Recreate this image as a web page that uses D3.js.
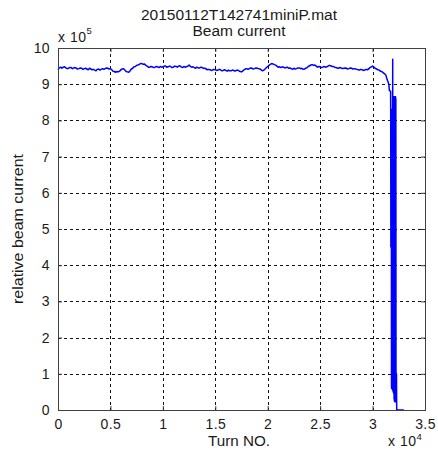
<!DOCTYPE html>
<html>
<head>
<meta charset="utf-8">
<script src="https://cdn.jsdelivr.net/npm/d3@7"></script>
<style>
  html, body { margin: 0; padding: 0; background: #fff; }
  text { font-family: Arial, "Liberation Sans", sans-serif; fill: #1a1a1a; }
</style>
</head>
<body>
<svg id="chart" width="438" height="458"></svg>
<script>
// Beam current record (relative units, x 10^5) against turn number
const titleLines = ["20150112T142741miniP.mat", "Beam current"];
const xTicks = [0, 5000, 10000, 15000, 20000, 25000, 30000, 35000];
const xTickLabels = ["0", "0.5", "1", "1.5", "2", "2.5", "3", "3.5"];
const yTicks = [0, 1, 2, 3, 4, 5, 6, 7, 8, 9, 10];

// stored beam: samples every 125 turns
const storedTurns = [
  0, 125, 250, 375, 500, 625, 750, 875, 1000, 1125, 1250, 1375, 1500, 1625, 1750, 1875,
  2000, 2125, 2250, 2375, 2500, 2625, 2750, 2875, 3000, 3125, 3250, 3375, 3500, 3625, 3750, 3875,
  4000, 4125, 4250, 4375, 4500, 4625, 4750, 4875, 5000, 5125, 5250, 5375, 5500, 5625, 5750, 5875,
  6000, 6125, 6250, 6375, 6500, 6625, 6750, 6875, 7000, 7125, 7250, 7375, 7500, 7625, 7750, 7875,
  8000, 8125, 8250, 8375, 8500, 8625, 8750, 8875, 9000, 9125, 9250, 9375, 9500, 9625, 9750, 9875,
  10000, 10125, 10250, 10375, 10500, 10625, 10750, 10875, 11000, 11125, 11250, 11375, 11500, 11625, 11750, 11875,
  12000, 12125, 12250, 12375, 12500, 12625, 12750, 12875, 13000, 13125, 13250, 13375, 13500, 13625, 13750, 13875,
  14000, 14125, 14250, 14375, 14500, 14625, 14750, 14875, 15000, 15125, 15250, 15375, 15500, 15625, 15750, 15875,
  16000, 16125, 16250, 16375, 16500, 16625, 16750, 16875, 17000, 17125, 17250, 17375, 17500, 17625, 17750, 17875,
  18000, 18125, 18250, 18375, 18500, 18625, 18750, 18875, 19000, 19125, 19250, 19375, 19500, 19625, 19750, 19875,
  20000, 20125, 20250, 20375, 20500, 20625, 20750, 20875, 21000, 21125, 21250, 21375, 21500, 21625, 21750, 21875,
  22000, 22125, 22250, 22375, 22500, 22625, 22750, 22875, 23000, 23125, 23250, 23375, 23500, 23625, 23750, 23875,
  24000, 24125, 24250, 24375, 24500, 24625, 24750, 24875, 25000, 25125, 25250, 25375, 25500, 25625, 25750, 25875,
  26000, 26125, 26250, 26375, 26500, 26625, 26750, 26875, 27000, 27125, 27250, 27375, 27500, 27625, 27750, 27875,
  28000, 28125, 28250, 28375, 28500, 28625, 28750, 28875, 29000, 29125, 29250, 29375, 29500, 29625, 29750, 29875,
  30000, 30125, 30250, 30375, 30500, 30625, 30750, 30875, 31000, 31125, 31250
];
const storedCurrent = [
  9.40, 9.45, 9.47, 9.44, 9.47, 9.48, 9.45, 9.43, 9.44, 9.46, 9.46, 9.43, 9.45, 9.46, 9.44, 9.42,
  9.43, 9.45, 9.44, 9.41, 9.43, 9.44, 9.42, 9.40, 9.44, 9.42, 9.40, 9.41, 9.39, 9.37, 9.41, 9.42,
  9.39, 9.41, 9.43, 9.41, 9.43, 9.45, 9.44, 9.42, 9.43, 9.40, 9.36, 9.35, 9.33, 9.35, 9.34, 9.36,
  9.40, 9.42, 9.43, 9.39, 9.35, 9.34, 9.33, 9.37, 9.42, 9.44, 9.48, 9.49, 9.52, 9.53, 9.55, 9.57,
  9.57, 9.55, 9.56, 9.52, 9.50, 9.47, 9.47, 9.49, 9.48, 9.46, 9.47, 9.49, 9.48, 9.46, 9.49, 9.47,
  9.48, 9.50, 9.50, 9.47, 9.48, 9.50, 9.49, 9.46, 9.47, 9.50, 9.49, 9.47, 9.50, 9.51, 9.48, 9.46,
  9.49, 9.47, 9.48, 9.50, 9.53, 9.49, 9.47, 9.48, 9.46, 9.44, 9.47, 9.45, 9.45, 9.47, 9.46, 9.44,
  9.44, 9.42, 9.40, 9.41, 9.40, 9.38, 9.39, 9.41, 9.40, 9.38, 9.39, 9.41, 9.40, 9.37, 9.38, 9.40,
  9.38, 9.36, 9.39, 9.37, 9.37, 9.39, 9.38, 9.36, 9.38, 9.39, 9.37, 9.35, 9.34, 9.37, 9.40, 9.42,
  9.43, 9.41, 9.43, 9.45, 9.44, 9.42, 9.43, 9.45, 9.44, 9.43, 9.42, 9.40, 9.37, 9.39, 9.42, 9.46,
  9.49, 9.52, 9.55, 9.57, 9.56, 9.54, 9.53, 9.50, 9.47, 9.48, 9.46, 9.48, 9.47, 9.45, 9.46, 9.47,
  9.44, 9.45, 9.43, 9.41, 9.44, 9.42, 9.43, 9.45, 9.45, 9.43, 9.44, 9.41, 9.42, 9.44, 9.46, 9.49,
  9.51, 9.53, 9.54, 9.52, 9.53, 9.50, 9.47, 9.49, 9.48, 9.46, 9.47, 9.49, 9.47, 9.48, 9.50, 9.52,
  9.51, 9.49, 9.49, 9.47, 9.46, 9.45, 9.44, 9.46, 9.45, 9.43, 9.44, 9.45, 9.44, 9.42, 9.43, 9.45,
  9.44, 9.42, 9.43, 9.42, 9.41, 9.40, 9.39, 9.41, 9.40, 9.38, 9.39, 9.41, 9.40, 9.42, 9.46, 9.48,
  9.50, 9.47, 9.44, 9.42, 9.40, 9.39, 9.36, 9.35, 9.32, 9.29, 9.26
];

// beam loss: decay, then fast oscillation down to zero
const lossTurns = [
  31400, 31450, 31550, 31600, 31720, 31730,
  31745, 31760, 31775, 31790, 31805, 31820, 31835, 31850, 31865, 31880, 31895,
  31920, 31935, 31950, 31965, 31980, 31995, 32010, 32025, 32040, 32055, 32070,
  32085, 32100, 32115, 32130, 32145, 32160, 32175, 32190, 32205, 32220, 32235,
  32250, 32265, 32280, 32295, 32305, 32980
];
const lossCurrent = [
  9.12, 9.08, 9.00, 8.83, 8.80, 8.24,
  4.50, 8.25, 4.60, 8.25, 0.60, 8.30, 0.60, 8.30, 0.60, 8.30, 0.55,
  9.69, 0.55, 8.65, 0.50, 8.65, 0.50, 8.65, 0.45, 8.65, 0.30, 8.65,
  0.25, 8.65, 0.23, 8.65, 0.23, 8.65, 0.23, 8.65, 0.23, 8.60, 0.23,
  1.00, 0.23, 1.00, 0.23, 0.00, 0.00
];

const turns = storedTurns.concat(lossTurns);
const current = storedCurrent.concat(lossCurrent);
const series = turns.map((t, i) => ({ t, v: current[i] }));

const svg = d3.select("#chart");
const plotLeft = 58, plotRight = 425, plotTop = 48, plotBottom = 410;

const x = d3.scaleLinear().domain([0, 35000]).range([plotLeft, plotRight]);
const y = d3.scaleLinear().domain([0, 10]).range([plotBottom, plotTop]);

// dotted grid
const grid = svg.append("g").attr("shape-rendering", "crispEdges");
grid.selectAll("line.vx").data(xTicks.slice(1, -1)).join("line")
  .attr("x1", d => Math.round(x(d)) + 0.5).attr("x2", d => Math.round(x(d)) + 0.5)
  .attr("y1", plotTop).attr("y2", plotBottom)
  .attr("stroke", "#111").attr("stroke-width", 1).attr("stroke-dasharray", "3,3");
grid.selectAll("line.hy").data(yTicks.slice(1, -1)).join("line")
  .attr("y1", d => Math.round(y(d)) + 0.5).attr("y2", d => Math.round(y(d)) + 0.5)
  .attr("x1", plotLeft).attr("x2", plotRight)
  .attr("stroke", "#111").attr("stroke-width", 1).attr("stroke-dasharray", "3,3");

// data line
svg.append("path")
  .datum(series)
  .attr("fill", "none")
  .attr("stroke", "#0000ff")
  .attr("stroke-width", 1.5)
  .attr("stroke-linejoin", "round")
  .attr("d", d3.line().x(d => x(d.t)).y(d => y(d.v)));

// axes (ticks inward, labels outside)
const fs = "14px";
const xAxis = d3.axisBottom(x).tickValues(xTicks).tickFormat((d, i) => xTickLabels[i]).tickSizeInner(-4).tickSizeOuter(0).tickPadding(9);
const yAxis = d3.axisLeft(y).tickValues(yTicks).tickFormat(d3.format("d")).tickSizeInner(-4).tickSizeOuter(0).tickPadding(8);

const gx = svg.append("g").attr("transform", `translate(0,${plotBottom})`).call(xAxis);
const gy = svg.append("g").attr("transform", `translate(${plotLeft},0)`).call(yAxis);
const gxTop = svg.append("g").attr("transform", `translate(0,${plotTop})`)
  .call(d3.axisTop(x).tickValues(xTicks).tickFormat("").tickSizeInner(-4).tickSizeOuter(0));
const gyRight = svg.append("g").attr("transform", `translate(${plotRight},0)`)
  .call(d3.axisRight(y).tickValues(yTicks).tickFormat("").tickSizeInner(-4).tickSizeOuter(0));

[gx, gy, gxTop, gyRight].forEach(g => {
  g.select(".domain").remove();
  g.selectAll(".tick line").attr("stroke", "#333");
  g.selectAll("text").attr("font-size", fs).attr("letter-spacing", "0.4px")
    .style("font-family", "Arial, 'Liberation Sans', sans-serif").attr("fill", "#1a1a1a");
});

// plot box
svg.append("rect")
  .attr("x", plotLeft + 0.5).attr("y", plotTop + 0.5)
  .attr("width", plotRight - plotLeft).attr("height", plotBottom - plotTop)
  .attr("fill", "none").attr("stroke", "#404040").attr("stroke-width", 1)
  .attr("shape-rendering", "crispEdges");

// titles (wide MATLAB-style lettering)
svg.append("text").attr("x", 239).attr("y", 20).attr("text-anchor", "middle")
  .attr("font-size", "14px").attr("textLength", 196).attr("lengthAdjust", "spacingAndGlyphs")
  .text(titleLines[0]);
svg.append("text").attr("x", 239).attr("y", 36).attr("text-anchor", "middle")
  .attr("font-size", "14px").attr("textLength", 93).attr("lengthAdjust", "spacingAndGlyphs")
  .text(titleLines[1]);

// axis exponents
const expY = svg.append("text").attr("x", 58).attr("y", 42).attr("font-size", "14px").attr("letter-spacing", "0.5px");
expY.append("tspan").text("x 10");
expY.append("tspan").attr("dy", -8).attr("font-size", "9.5px").text("5");

const expX = svg.append("text").attr("x", 388).attr("y", 446).attr("font-size", "14px").attr("letter-spacing", "0.5px");
expX.append("tspan").text("x 10");
expX.append("tspan").attr("dy", -6).attr("font-size", "9.5px").text("4");

// axis labels
svg.append("text").attr("x", 239).attr("y", 446).attr("text-anchor", "middle")
  .attr("font-size", "14px").attr("textLength", 62).attr("lengthAdjust", "spacingAndGlyphs")
  .text("Turn NO.");
svg.append("text").attr("transform", `translate(23,${(plotTop + plotBottom) / 2}) rotate(-90)`)
  .attr("text-anchor", "middle").attr("font-size", "14px")
  .attr("textLength", 150).attr("lengthAdjust", "spacingAndGlyphs")
  .text("relative beam current");
</script>
</body>
</html>
